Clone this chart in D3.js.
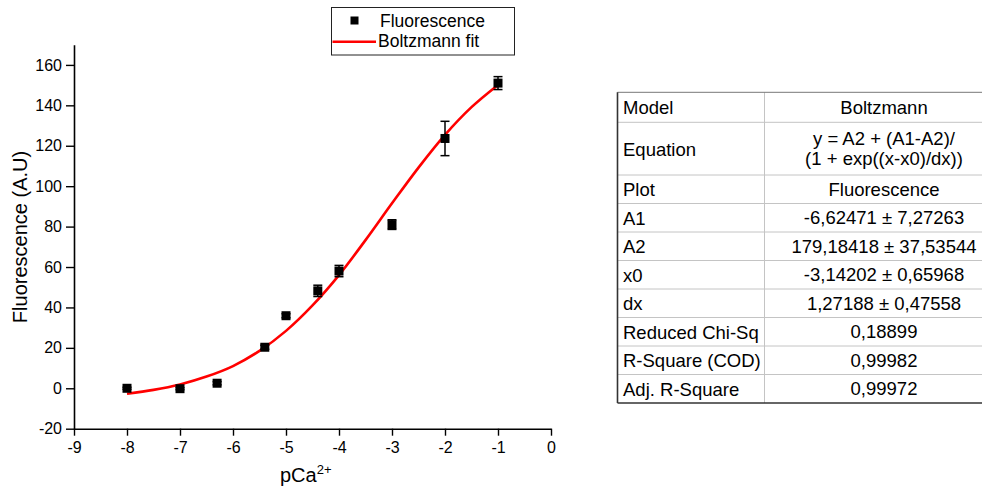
<!DOCTYPE html>
<html>
<head>
<meta charset="utf-8">
<script src="https://cdn.jsdelivr.net/npm/d3@7"></script>
<style>
  html, body { margin: 0; padding: 0; background: #fff; }
  svg { display: block; font-family: "Liberation Sans", Arial, sans-serif; }
</style>
</head>
<body>
<svg id="chart" width="982" height="489"></svg>
<script>
// measured points (pCa vs fluorescence, with error bars)
const pCa    = [-8, -7, -6.3, -5.4, -5, -4.4, -4, -3, -2, -1];
const fluor  = [0, -0.2, 2.5, 20.3, 35.9, 48.2, 58, 81, 123.6, 151];
const fluErr = [0.5, 0.5, 0.8, 1, 1, 2.8, 2.8, 2.4, 8.5, 3.2];

// fitted curve
const fitX = [-8, -7.5, -7, -6.5, -6, -5.5, -5, -4.5, -4, -3.5, -3, -2.5, -2, -1.5, -1];
const fitY = [-2.7, -0.8, 1.9, 5.8, 11, 18.5, 28.4, 41, 56, 73.3, 91.5, 109.2, 125.4, 139.1, 150.1];

const xTicks = [-9, -8, -7, -6, -5, -4, -3, -2, -1, 0];
const yTicks = [-20, 0, 20, 40, 60, 80, 100, 120, 140, 160];

// fit result table
const tableLabels = ["Model", "Equation", "Plot", "A1", "A2", "x0", "dx",
                     "Reduced Chi-Sq", "R-Square (COD)", "Adj. R-Square"];
const tableValues = [["Boltzmann"],
                     ["y = A2 + (A1-A2)/", "(1 + exp((x-x0)/dx))"],
                     ["Fluorescence"],
                     ["-6,62471 \u00b1 7,27263"],
                     ["179,18418 \u00b1 37,53544"],
                     ["-3,14202 \u00b1 0,65968"],
                     ["1,27188 \u00b1 0,47558"],
                     ["0,18899"], ["0,99982"], ["0,99972"]];

const svg = d3.select("#chart");

const x = d3.scaleLinear().domain([-9, 0]).range([74, 551]);
const y = d3.scaleLinear().domain([-20, 170]).range([428.7, 44.7]);

// ── axes ───────────────────────────────────────────────────────────────
const xAxisY = y(-20);
const gx = svg.append("g").attr("transform", `translate(0,${xAxisY})`);
gx.call(d3.axisBottom(x).tickValues(d3.range(-8.5, 0, 1)).tickSize(4).tickFormat("").tickSizeOuter(0));
gx.call(d3.axisBottom(x).tickValues(xTicks).tickSize(7).tickPadding(6)
          .tickFormat(d => String(d)).tickSizeOuter(0));

const gy = svg.append("g").attr("transform", `translate(${x(-9)},0)`);
gy.call(d3.axisLeft(y).tickValues(d3.range(-10, 171, 20)).tickSize(4).tickFormat("").tickSizeOuter(0));
gy.call(d3.axisLeft(y).tickValues(yTicks).tickSize(8).tickPadding(4)
          .tickFormat(d => String(d)).tickSizeOuter(0));

svg.selectAll(".domain").attr("stroke", "#000").attr("stroke-width", 1.6);
svg.selectAll(".tick line").attr("stroke", "#000").attr("stroke-width", 1.4);
svg.selectAll(".tick text").attr("font-size", 16).attr("fill", "#000")
   .attr("font-family", "Liberation Sans, Arial, sans-serif");

// axis titles
svg.append("text")
  .attr("transform", "translate(27,237) rotate(-90)")
  .attr("text-anchor", "middle")
  .attr("font-size", 20)
  .text("Fluorescence (A.U)");

const xt = svg.append("text")
  .attr("x", 280).attr("y", 482)
  .attr("font-size", 20);
xt.append("tspan").text("pCa");
xt.append("tspan").attr("font-size", 13).attr("dy", -8).text("2+");

// ── fit line ───────────────────────────────────────────────────────────
const line = d3.line().x(d => x(d[0])).y(d => y(d[1])).curve(d3.curveCatmullRom);
svg.append("path")
  .datum(d3.zip(fitX, fitY))
  .attr("d", line)
  .attr("fill", "none")
  .attr("stroke", "#ff0000")
  .attr("stroke-width", 2.6);

// ── points and error bars ──────────────────────────────────────────────
const pts = d3.zip(pCa, fluor, fluErr);
const eb = svg.append("g").attr("stroke", "#000").attr("stroke-width", 1.5);
pts.forEach(([px, py, pe]) => {
  eb.append("line").attr("x1", x(px)).attr("x2", x(px)).attr("y1", y(py - pe)).attr("y2", y(py + pe));
  eb.append("line").attr("x1", x(px) - 4.5).attr("x2", x(px) + 4.5).attr("y1", y(py - pe)).attr("y2", y(py - pe));
  eb.append("line").attr("x1", x(px) - 4.5).attr("x2", x(px) + 4.5).attr("y1", y(py + pe)).attr("y2", y(py + pe));
});
svg.append("g").selectAll("rect")
  .data(pts).enter().append("rect")
  .attr("x", d => x(d[0]) - 4.5)
  .attr("y", d => y(d[1]) - 4.5)
  .attr("width", 9).attr("height", 9)
  .attr("fill", "#000");

// ── legend ─────────────────────────────────────────────────────────────
const lg = svg.append("g");
lg.append("rect").attr("x", 331.5).attr("y", 7.5).attr("width", 183).attr("height", 47.5)
  .attr("fill", "#fff").attr("stroke", "#222").attr("stroke-width", 1);
lg.append("rect").attr("x", 350.5).attr("y", 16.5).attr("width", 8).attr("height", 8).attr("fill", "#000");
lg.append("text").attr("x", 380).attr("y", 26.7).attr("font-size", 17.5).text("Fluorescence");
lg.append("line").attr("x1", 332.5).attr("x2", 376).attr("y1", 41.7).attr("y2", 41.7)
  .attr("stroke", "#ff0000").attr("stroke-width", 2.6);
lg.append("text").attr("x", 378).attr("y", 46.7).attr("font-size", 17.5).text("Boltzmann fit");

// ── parameter table ────────────────────────────────────────────────────
const tLeft = 617.5, tMid = 764.5, tRight = 1004, tTop = 92.3;
const rowH = tableLabels.map((d, i) => i === 0 ? 30 : i === 1 ? 52.7 : 28.5);
const rowTop = rowH.map((h, i) => tTop + d3.sum(rowH.slice(0, i)));
const tBottom = tTop + d3.sum(rowH);

const tb = svg.append("g").attr("font-size", 18.5).attr("fill", "#000");
rowTop.slice(1).forEach(t => {
  tb.append("line").attr("x1", tLeft).attr("x2", tRight).attr("y1", t).attr("y2", t)
    .attr("stroke", "#c4c4c4").attr("stroke-width", 1);
});
tb.append("line").attr("x1", tMid).attr("x2", tMid).attr("y1", tTop).attr("y2", tBottom)
  .attr("stroke", "#c4c4c4").attr("stroke-width", 1);
tb.append("line").attr("x1", tLeft).attr("x2", tRight).attr("y1", tTop).attr("y2", tTop)
  .attr("stroke", "#777").attr("stroke-width", 1);
tb.append("line").attr("x1", tLeft).attr("x2", tRight).attr("y1", tBottom).attr("y2", tBottom)
  .attr("stroke", "#333").attr("stroke-width", 1.6);
tb.append("line").attr("x1", tLeft).attr("x2", tLeft).attr("y1", tTop).attr("y2", tBottom)
  .attr("stroke", "#333").attr("stroke-width", 1.6);

tableLabels.forEach((lab, i) => {
  const cy = rowTop[i] + rowH[i] / 2;
  tb.append("text").attr("x", 623).attr("y", cy + 7).text(lab);
  const vals = tableValues[i];
  vals.forEach((v, j) => {
    const off = (j - (vals.length - 1) / 2) * 20.5;
    tb.append("text").attr("x", 884).attr("y", cy + 6.5 + off)
      .attr("text-anchor", "middle").text(v);
  });
});
</script>
</body>
</html>
